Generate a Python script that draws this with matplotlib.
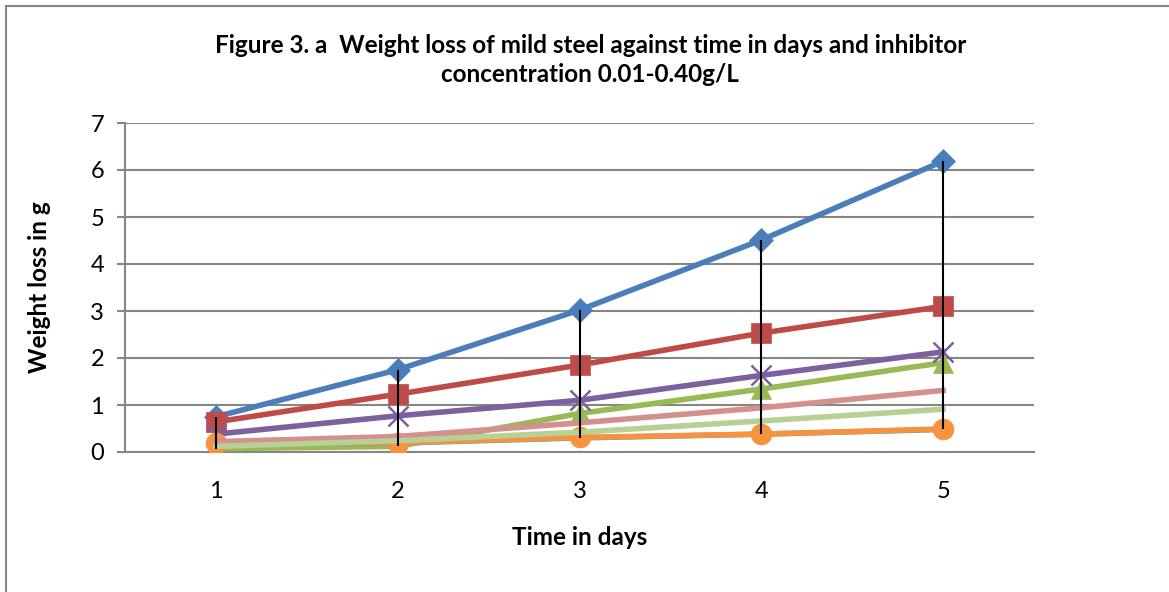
import matplotlib.pyplot as plt
from matplotlib.patches import Rectangle

plt.rcParams['font.family'] = ['Lato', 'DejaVu Sans']

# --- Data ---
days = [1, 2, 3, 4, 5]
s_blue = [0.75, 1.75, 3.02, 4.51, 6.19]
s_red = [0.64, 1.23, 1.85, 2.53, 3.10]
s_green = [0.07, 0.12, 0.82, 1.34, 1.90]
s_purple = [0.38, 0.77, 1.10, 1.63, 2.13]
s_cyan = [0.18, 0.19, 0.30, 0.38, 0.48]
s_orange = [0.19, 0.20, 0.31, 0.38, 0.49]
s_pink = [0.22, 0.33, 0.62, 0.94, 1.31]
s_lgreen = [0.12, 0.24, 0.42, 0.66, 0.91]

series = [
    (s_blue, '#4A7EBB', 'D', 12),
    (s_red, '#BE4B48', 's', 14),
    (s_green, '#98B954', '^', 14),
    (s_purple, '#7D60A0', 'x', 14),
    (s_cyan, '#46AAC5', (6, 2, 0), 13),
    (s_orange, '#F69240', 'o', 15),
    (s_pink, '#D4908F', None, 0),
    (s_lgreen, '#B8CF95', None, 0),
]

fig = plt.figure(figsize=(11.69, 5.92), dpi=100)
ax = fig.add_axes([125 / 1169, 1 - 452 / 592, 909 / 1169, 329 / 592])

# chart border (cut at right/bottom like the source)
fig.patches.append(Rectangle((6 / 1169, -0.1), 1.2, 1 - 6 / 592 + 0.1,
                             transform=fig.transFigure, fill=False,
                             edgecolor='#868686', lw=1.5))

for z, (vals, col, mk, ms) in enumerate(series):
    kw = dict(color=col, lw=4.0, solid_capstyle='projecting', zorder=3 + z)
    if mk is not None:
        kw.update(marker=mk, markersize=ms, markerfacecolor=col,
                  markeredgecolor=col, markeredgewidth=1.8 if mk in ('x', (6, 2, 0)) else 0.5)
    ax.plot(days, vals, **kw)

# high-low lines
all_vals = [s for s, _, _, _ in series]
highs = [max(v[i] for v in all_vals) for i in range(len(days))]
lows = [min(v[i] for v in all_vals) for i in range(len(days))]
ax.vlines(days, lows, highs, color='black', lw=1.5, zorder=20)

ax.set_xlim(0.5, 5.5)
ax.set_ylim(0, 7)
ax.set_yticks(range(0, 8))
ax.set_xticks(days)
ax.grid(axis='y', color='#868686', lw=1.5)
ax.set_axisbelow(True)
for sp in ['top', 'right']:
    ax.spines[sp].set_visible(False)
ax.spines['left'].set_color('#868686')
ax.spines['bottom'].set_color('#868686')
ax.spines['left'].set_linewidth(1.5)
ax.spines['bottom'].set_linewidth(1.5)
ax.tick_params(axis='y', length=6, width=1.5, color='#868686', labelsize=17, pad=9)
ax.tick_params(axis='x', length=0, labelsize=17, pad=21)

ax.set_xlabel('Time in days', fontsize=17.5, fontweight='bold', labelpad=17)
ax.set_ylabel('Weight loss in g', fontsize=17.5, fontweight='bold', labelpad=28)

fig.text(0.505, 1 - 60 / 592,
         'Figure 3. a  Weight loss of mild steel against time in days and inhibitor\nconcentration 0.01-0.40g/L',
         ha='center', va='center', fontsize=17.5, fontweight='bold', linespacing=1.35)

fig.savefig('out.png', dpi=100)
